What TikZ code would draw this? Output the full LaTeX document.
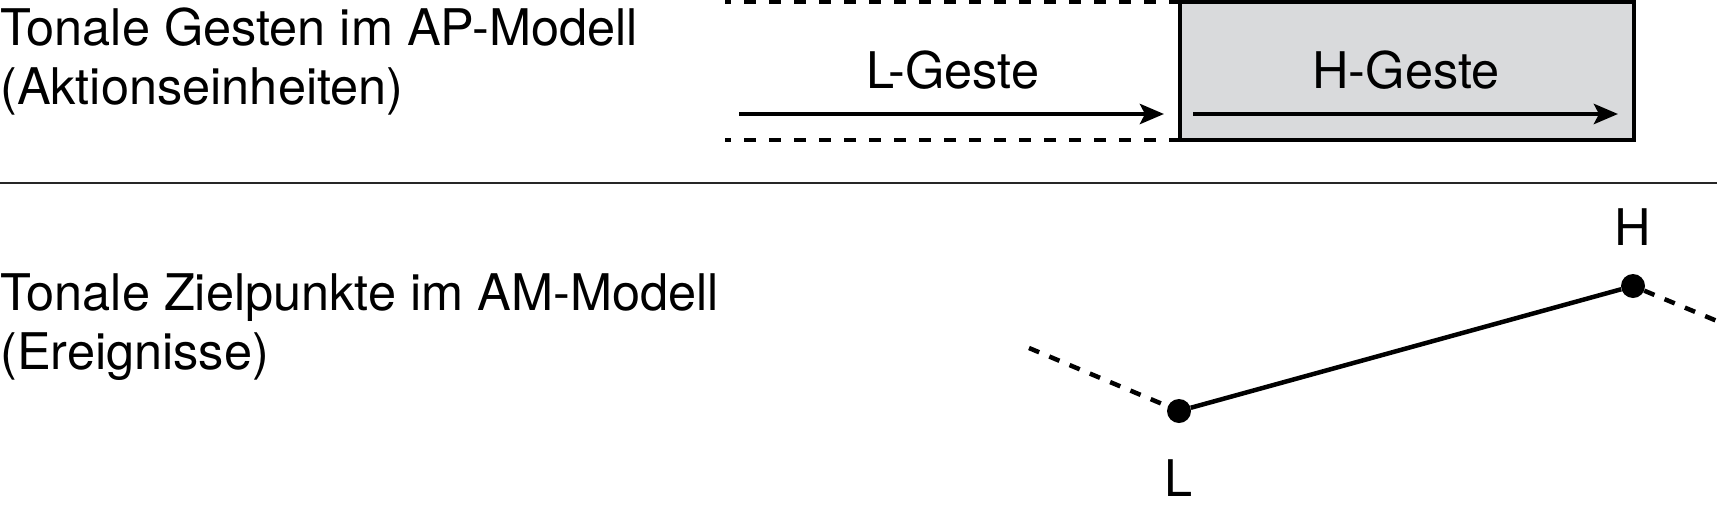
\documentclass[tikz,border=0pt]{standalone}
\usepackage{fontspec}
\setmainfont{TeX Gyre Heros}
\usetikzlibrary{arrows.meta,positioning}

\definecolor{boxgray}{RGB}{217,218,220}
\tikzset{
	lbl/.style={font=\fontsize{50.5}{59}\selectfont,inner sep=0pt},
	gest/.style={->,>={Stealth[length=24pt,width=20pt,inset=5pt]},line width=4.5pt},
	lead/.style={dash pattern=on 12pt off 13pt,dash phase=6pt,line width=4.5pt},
	tone/.style={circle,fill=black,inner sep=0pt,minimum size=24pt},
}

\begin{document}
\begin{tikzpicture}[scale=1]
	\useasboundingbox (0pt,0pt) rectangle (1717pt,-520pt);
	
	% Beschriftungen links
	\node[lbl,anchor=base west,align=left] (t1) at (0pt,-104pt){Tonale Gesten im AP-Modell\\(Aktionseinheiten)};
	\node[lbl,anchor=base west,align=left] (t2) at (0pt,-369pt){Tonale Zielpunkte im AM-Modell\\(Ereignisse)};
	
	% AP-Modell
	\node[draw=black,fill=boxgray,line width=4.5pt,outer sep=0pt,anchor=north west,minimum width=454pt,minimum height=138pt,inner sep=0pt] (hbox) at (1180pt,-2pt){};
	\coordinate (d1) at (725pt,-2pt);
	\coordinate (d2) at (725pt,-140pt);
	\draw[lead] (d1)--(hbox.north west);
	\draw[lead] (d2)--(hbox.south west);
	\node[lbl,anchor=base] (lg) at (953pt,-88pt){L-Geste};
	\node[lbl,anchor=base] (hg) at (1406pt,-88pt){H-Geste};
	\coordinate (a1) at (739pt,-114pt);
	\coordinate (a2) at (1164pt,-114pt);
	\coordinate (a3) at (1193pt,-114pt);
	\coordinate (a4) at (1618pt,-114pt);
	\draw[gest] (a1)--(a2);
	\draw[gest] (a3)--(a4);
	
	% Trennlinie
	\coordinate (s1) at (0pt,-183pt);
	\coordinate (s2) at (1717pt,-183pt);
	\draw[line width=2pt,draw=black!85] (s1)--(s2);
	
	% AM-Modell
	\node[tone] (lt) at (1179pt,-411pt){};
	\node[tone] (ht) at (1633pt,-286pt){};
	\node[lbl,anchor=base] (ll) at (1179pt,-496pt){L};
	\node[lbl,anchor=base] (hl) at (1633pt,-245pt){H};
	\coordinate (e1) at (1029pt,-348pt);
	\coordinate (e2) at (1717pt,-321pt);
	\draw[lead,dash pattern=on 11pt off 11pt,dash phase=0pt] (e1)--(lt);
	\draw[lead,dash pattern=on 11pt off 11pt,dash phase=0pt] (ht)--(e2);
	\draw[line width=4.5pt] (lt)--(ht);
\end{tikzpicture}
\end{document}
